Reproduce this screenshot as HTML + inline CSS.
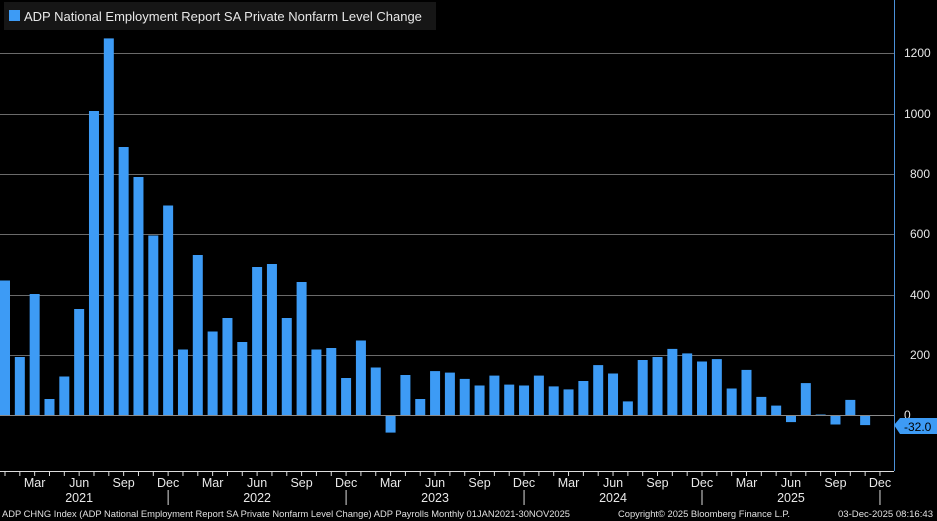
<!DOCTYPE html>
<html><head><meta charset="utf-8"><style>
html,body{margin:0;padding:0;background:#000;}
svg{display:block;font-family:"Liberation Sans","DejaVu Sans",sans-serif;}
</style></head><body>
<svg width="937" height="521" viewBox="0 0 937 521" xmlns="http://www.w3.org/2000/svg">
<rect width="937" height="521" fill="#000"/>
<g stroke="#6a6a6a" stroke-width="1">
<line x1="0" y1="53.5" x2="894" y2="53.5"/>
<line x1="0" y1="114.5" x2="894" y2="114.5"/>
<line x1="0" y1="174.5" x2="894" y2="174.5"/>
<line x1="0" y1="234.5" x2="894" y2="234.5"/>
<line x1="0" y1="295.5" x2="894" y2="295.5"/>
<line x1="0" y1="355.5" x2="894" y2="355.5"/>
</g>
<g id="bars" fill="#3d9bf5"></g>
<line x1="0" y1="415.5" x2="894" y2="415.5" stroke="#8a8a8a" stroke-width="1"/>
<line x1="894.5" y1="0" x2="894.5" y2="471" stroke="#4a90d9" stroke-width="1"/>
<line x1="0" y1="471.5" x2="894" y2="471.5" stroke="#ddd" stroke-width="1"/>
<g id="ticks" stroke="#ddd" stroke-width="1"></g>
<g fill="#e8e8e8" font-size="12">
<text x="904" y="57">1200</text>
<text x="904" y="118">1000</text>
<text x="910" y="178">800</text>
<text x="910" y="238">600</text>
<text x="910" y="299">400</text>
<text x="910" y="359">200</text>
<text x="904" y="0">1400</text>
<text x="904" y="419">0</text>
</g>
<polygon points="894,425 900,418 937,418 937,434 900,434" fill="#3d9bf5"/>
<text x="904" y="431" fill="#000" font-size="12">-32.0</text>
<g id="xl" fill="#e8e8e8" font-size="12.5" text-anchor="middle"></g>
<rect x="4" y="2" width="432" height="28" fill="#161616"/>
<rect x="9" y="10" width="11" height="11" fill="#3d9bf5"/>
<text x="24" y="21" fill="#e8e8e8" font-size="13">ADP National Employment Report SA Private Nonfarm Level Change</text>
<g fill="#e0e0e0" font-size="9.4">
<text x="2" y="517" textLength="568" lengthAdjust="spacingAndGlyphs">ADP CHNG Index (ADP National Employment Report SA Private Nonfarm Level Change) ADP Payrolls Monthly 01JAN2021-30NOV2025</text>
<text x="618" y="517" textLength="172" lengthAdjust="spacingAndGlyphs">Copyright© 2025 Bloomberg Finance L.P.</text>
<text x="838" y="517" textLength="95" lengthAdjust="spacingAndGlyphs">03-Dec-2025 08:16:43</text>
</g>
<script>
var d=[450,195,405,55,130,355,1015,1257,895,795,600,700,
220,535,280,325,245,495,505,325,445,220,225,125,
250,160,-57,135,55,148,143,122,100,133,103,100,
133,97,87,115,168,140,47,185,195,222,207,180,
188,90,152,62,33,-22,108,1,-30,52,-32];
var ns="http://www.w3.org/2000/svg",b=document.getElementById('bars'),t=document.getElementById('ticks'),xl=document.getElementById('xl');
var sp=14.83,x0=5,z=415.5,k=0.3;
function el(n,a,p){var e=document.createElementNS(ns,n);for(var q in a)e.setAttribute(q,a[q]);p.appendChild(e);return e;}
d.forEach(function(v,i){var c=x0+i*sp,h=Math.max(Math.abs(v)*k,1);el('rect',{x:c-5,y:v>=0?z-h:z,width:10,height:h},b);});
for(var i=-1;i<61;i++){var c=x0+i*sp;if(c>894)break;el('line',{x1:c,y1:471,x2:c,y2:476},t);}
var mn=['Mar','Jun','Sep','Dec'];
for(var i=2;i<60;i+=3){var c=x0+i*sp;var tx=el('text',{x:c,y:487},xl);tx.textContent=mn[((i-2)/3)%4];}
for(var y=0;y<5;y++){var c=x0+(y*12+5)*sp;var tx=el('text',{x:c,y:502},xl);tx.textContent=2021+y;
 var dx=x0+(y*12+11)*sp;el('line',{x1:dx,y1:490,x2:dx,y2:505},t);}
</script>
</svg>
</body></html>
